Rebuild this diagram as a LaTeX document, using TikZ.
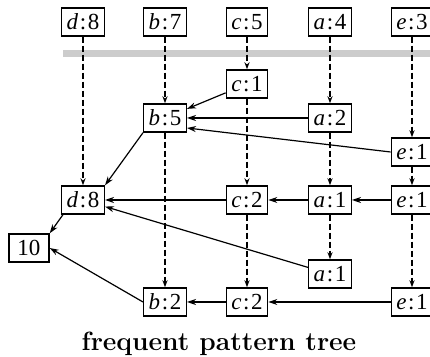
\documentclass[tikz,border=0pt]{standalone}
\usepackage{fontspec}
\newfontfamily\labfont{Liberation Serif}
\usetikzlibrary{arrows.meta}
\newcommand\lbl[2]{\textit{#1}\kern0.8pt:\kern0.8pt#2}

\begin{document}
\begin{tikzpicture}[x=0.5pt,y=-0.5pt,
  cell/.style={draw, line width=0.7pt, inner xsep=2.5pt, inner ysep=0pt,
    minimum height=14pt, minimum width=20pt,
    font=\labfont\fontsize{11.5}{13}\selectfont},
  link/.style={line width=0.6pt, -{Stealth[length=4.5pt,width=3pt]}},
  chain/.style={line width=0.6pt, dash pattern=on 3pt off 1.5pt,
    -{Stealth[length=3.5pt,width=2.5pt]}}]
\useasboundingbox (0,0) rectangle (430,357);
\clip (0,0) rectangle (430,357);

% header separator
\fill[gray!40] (63,50) rectangle (450,57);

% header table
\node[cell] (hd) at (83,22)  {\lbl{d}{8}};
\node[cell] (hb) at (165,22) {\lbl{b}{7}};
\node[cell] (hc) at (247,22) {\lbl{c}{5}};
\node[cell] (ha) at (330,22) {\lbl{a}{4}};
\node[cell] (he) at (412,22) {\lbl{e}{3}};

% tree nodes
\node[cell] (c1)  at (247,84)  {\lbl{c}{1}};
\node[cell] (b5)  at (165,118) {\lbl{b}{5}};
\node[cell] (a2)  at (330,118) {\lbl{a}{2}};
\node[cell] (e1a) at (412,152) {\lbl{e}{1}};
\node[cell] (d8)  at (83,200)  {\lbl{d}{8}};
\node[cell] (c2a) at (247,200) {\lbl{c}{2}};
\node[cell] (a1a) at (330,200) {\lbl{a}{1}};
\node[cell] (e1b) at (412,200) {\lbl{e}{1}};
\node[cell] (root) at (29,248) {10};
\node[cell] (a1b) at (330,274) {\lbl{a}{1}};
\node[cell] (b2)  at (165,302) {\lbl{b}{2}};
\node[cell] (c2b) at (247,302) {\lbl{c}{2}};
\node[cell] (e1c) at (412,302) {\lbl{e}{1}};

% node-link chains
\draw[chain] (hd) -- (d8);
\draw[chain] (hb) -- (b5);
\draw[chain] (b5) -- (b2);
\draw[chain] (hc) -- (c1);
\draw[chain] (c1) -- (c2a);
\draw[chain] (c2a) -- (c2b);
\draw[chain] (ha) -- (a2);
\draw[chain] (a2) -- (a1a);
\draw[chain] (a1a) -- (a1b);
\draw[chain] (he) -- (e1a);
\draw[chain] (e1a) -- (e1b);
\draw[chain] (e1b) -- (e1c);

% parent links
\draw[link] (c1) -- (b5);
\draw[link] (a2) -- (b5);
\draw[link] (e1a.west) -- ([yshift=-5pt]b5.east);
\draw[link] (b5.south west) -- (d8.north east);
\draw[link] (c2a) -- (d8);
\draw[link] (a1a) -- (c2a);
\draw[link] (e1b) -- (a1a);
\draw[link] (a1b) -- (d8);
\draw[link] ([xshift=1pt]d8.south west) -- (root.north east);
\draw[link] (b2.west) -- (root.east);
\draw[link] (c2b) -- (b2);
\draw[link] (e1c) -- (c2b);

% caption
\node[anchor=base, font=\fontsize{13.2}{16}\selectfont\bfseries] (cap) at (219,351) {frequent pattern tree};
\end{tikzpicture}
\end{document}
